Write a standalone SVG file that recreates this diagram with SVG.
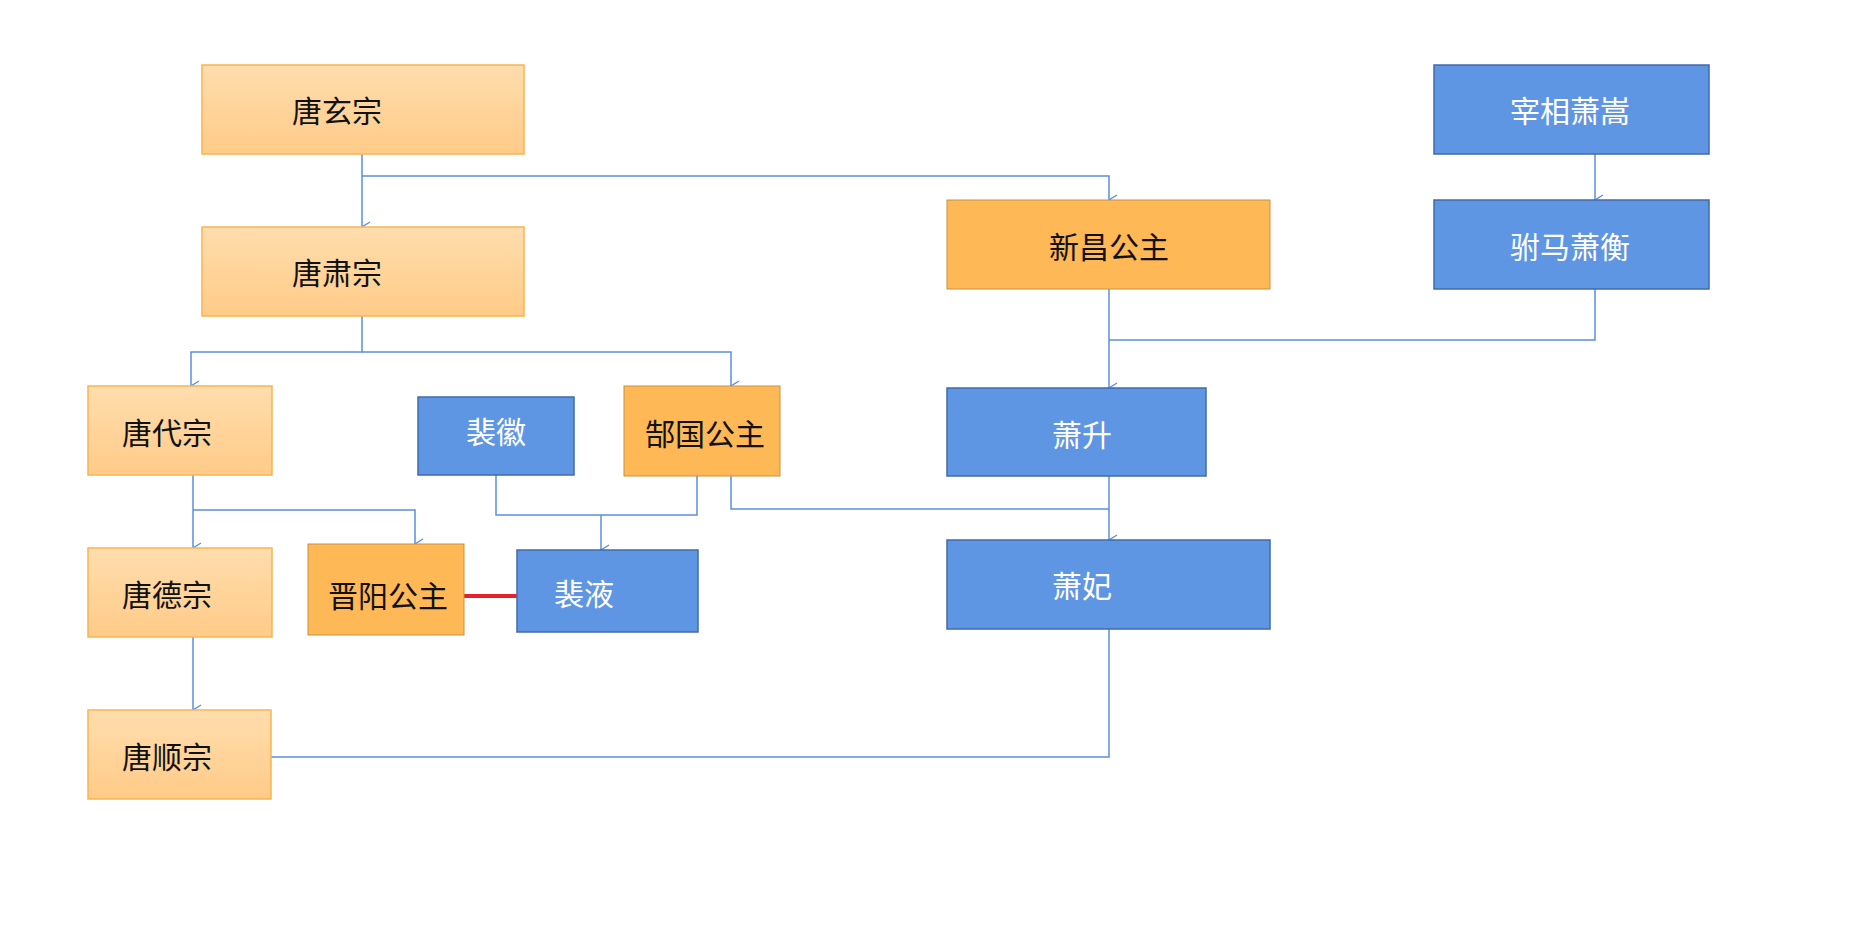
<svg xmlns="http://www.w3.org/2000/svg" width="1863" height="939" viewBox="0 0 1863 939">
<defs>
<linearGradient id="lg" x1="0" y1="0" x2="0" y2="1"><stop offset="0" stop-color="#FFDDAD"/><stop offset="1" stop-color="#FFCB88"/></linearGradient>
<marker id="a" markerWidth="12" markerHeight="10" refX="6" refY="9" orient="auto-start-reverse" markerUnits="userSpaceOnUse" viewBox="0 0 12 10"><path d="M1,1 L6,9 L11,1" fill="none" stroke="#5B8FDC" stroke-width="1.3"/></marker>
<style>
.l{fill:url(#lg);stroke:#F8B551;stroke-width:1.5}
.o{fill:#FFB856;stroke:#C8903E;stroke-width:1}
.b{fill:#5F96E3;stroke:#4169AA;stroke-width:1.5}
text{font-family:"Noto Sans CJK SC","Noto Sans",sans-serif;font-size:30px;dominant-baseline:central;text-anchor:middle}
.dk{fill:#111}.wt{fill:#fff}
.c{fill:none;stroke:#5B8FDC;stroke-width:1.5}
</style>
</defs>
<g id="connectors">
<path class="c" d="M362,154 V227" marker-end="url(#a)"/>
<path class="c" d="M362,176 H1109 V200" marker-end="url(#a)"/>
<path class="c" d="M1595,154 V200" marker-end="url(#a)"/>
<path class="c" d="M1109,289 V388" marker-end="url(#a)"/>
<path class="c" d="M1595,289 V340 H1109"/>
<path class="c" d="M362,316 V352 H191 V386" marker-end="url(#a)"/>
<path class="c" d="M362,352 H731 V386" marker-end="url(#a)"/>
<path class="c" d="M193,475 V548" marker-end="url(#a)"/>
<path class="c" d="M193,510 H415 V544" marker-end="url(#a)"/>
<path class="c" d="M193,637 V710" marker-end="url(#a)"/>
<path class="c" d="M496,475 V515 H697 V476"/>
<path class="c" d="M601,515 V550" marker-end="url(#a)"/>
<path class="c" d="M731,476 V509 H1109"/>
<path class="c" d="M1109,476 V540" marker-end="url(#a)"/>
<path class="c" d="M1109,629 V757 H271"/>
<path d="M462,596 H517" stroke="#E8202A" stroke-width="4"/>
</g>
<g id="n1"><rect class="l" x="202" y="65" width="322" height="89"/><text class="dk" x="337" y="109">唐玄宗</text></g>
<g id="n2"><rect class="l" x="202" y="227" width="322" height="89"/><text class="dk" x="337" y="271">唐肃宗</text></g>
<g id="n3"><rect class="o" x="947" y="200" width="323" height="89"/><text class="dk" x="1109" y="245">新昌公主</text></g>
<g id="n4"><rect class="b" x="1434" y="65" width="275" height="89"/><text class="wt" x="1570" y="109">宰相萧嵩</text></g>
<g id="n5"><rect class="b" x="1434" y="200" width="275" height="89"/><text class="wt" x="1570" y="245">驸马萧衡</text></g>
<g id="n6"><rect class="l" x="88" y="386" width="184" height="89"/><text class="dk" x="167" y="431">唐代宗</text></g>
<g id="n7"><rect class="b" x="418" y="397" width="156" height="78"/><text class="wt" x="496" y="430">裴徽</text></g>
<g id="n8"><rect class="o" x="624" y="386" width="156" height="90"/><text class="dk" x="705" y="432">郜国公主</text></g>
<g id="n9"><rect class="b" x="947" y="388" width="259" height="88"/><text class="wt" x="1082" y="433">萧升</text></g>
<g id="n10"><rect class="l" x="88" y="548" width="184" height="89"/><text class="dk" x="167" y="593">唐德宗</text></g>
<g id="n11"><rect class="o" x="308" y="544" width="156" height="91"/><text class="dk" x="388" y="594">晋阳公主</text></g>
<g id="n12"><rect class="b" x="517" y="550" width="181" height="82"/><text class="wt" x="584" y="592">裴液</text></g>
<g id="n13"><rect class="b" x="947" y="540" width="323" height="89"/><text class="wt" x="1082" y="584">萧妃</text></g>
<g id="n14"><rect class="l" x="88" y="710" width="183" height="89"/><text class="dk" x="167" y="755">唐顺宗</text></g>
</svg>
